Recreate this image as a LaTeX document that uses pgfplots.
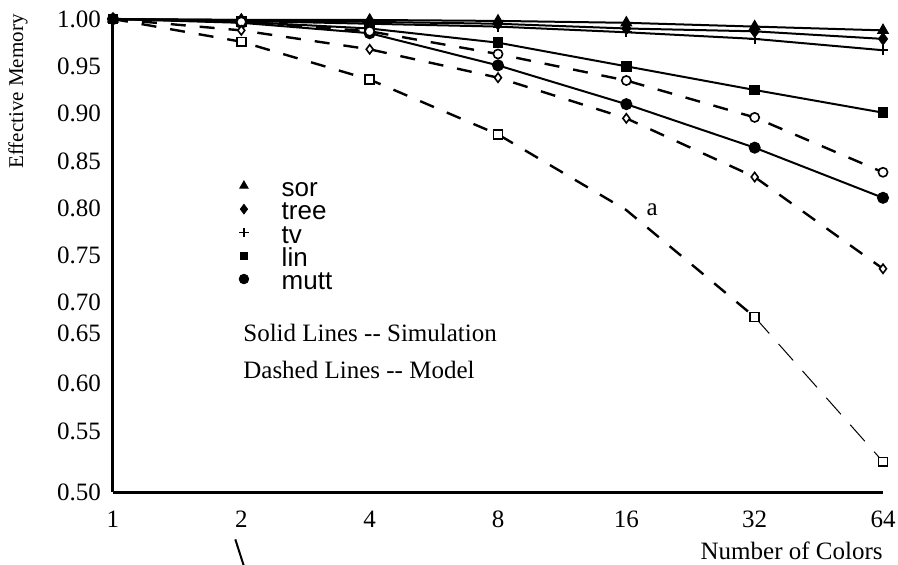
\documentclass[border=0pt]{standalone}
\usepackage{pgfplots}
\pgfplotsset{compat=1.18}
\usepackage{fontspec}
\setmainfont{Liberation Serif}
\newfontfamily\legfont{Liberation Sans}

\pgfplotsset{
  sim/.style={black, line width=1pt, mark options={solid}},
  model/.style={black, line width=1.2pt, dash pattern=on 7.5pt off 7pt,
    mark options={solid, fill=white, line width=0.8pt}},
}

\begin{document}
\begin{tikzpicture}
\useasboundingbox (-56.5pt,-36pt) rectangle (392.5pt,246pt);
\begin{axis}[
  at={(0,0)}, anchor=south west,
  scale only axis, width=385pt, height=236.5pt,
  xmode=log, log basis x=2,
  xmin=1, xmax=64, ymin=0.5, ymax=1.0,
  axis x line*=bottom, axis y line*=left,
  axis line style={line width=1.5pt},
  every outer x axis line/.append style={-},
  every outer y axis line/.append style={-},
  xtick={1,2,4,8,16,32,64}, xticklabels={1,2,4,8,16,32,64},
  ytick={0.5,0.5637,0.6145,0.668,0.70,0.75,0.80,0.85,0.90,0.95,1.00},
  yticklabels={0.50,0.55,0.60,0.65,0.70,0.75,0.80,0.85,0.90,0.95,1.00},
  minor tick num=0,
  major tick length=0pt,
  tick label style={font=\fontsize{12.5}{14}\selectfont},
  yticklabel style={xshift=-2.5pt},
  xticklabel style={yshift=-6pt},
  clip=false,
  legend cell align=left,
  legend image code/.code={\draw[#1] plot coordinates {(0pt,1.5pt)};},
  legend style={draw=none, fill=none, at={(axis description cs:0.1555,0.667)},
    anchor=north west, font=\legfont\fontsize{13}{14}\selectfont,
    column sep=16.5pt, row sep=4.05pt,
    nodes={inner sep=0pt, text height=7.5pt, text depth=0pt}},
]
% simulation (solid)
\addplot[sim, mark=triangle*, mark size=2.6pt, forget plot] coordinates {(1,1.000) (2,0.999) (4,0.999) (8,0.998) (16,0.996) (32,0.992) (64,0.988)};
\addplot[sim, mark=diamond*, mark size=2.6pt, forget plot] coordinates {(1,1.000) (2,0.999) (4,0.997) (8,0.995) (16,0.990) (32,0.987) (64,0.979)};
\addplot[sim, mark=+, mark size=2.6pt, forget plot] coordinates {(1,1.000) (2,0.998) (4,0.995) (8,0.992) (16,0.986) (32,0.979) (64,0.967)};
\addplot[sim, mark=square*, mark size=2.2pt, forget plot] coordinates {(1,1.000) (2,0.997) (4,0.990) (8,0.975) (16,0.950) (32,0.925) (64,0.901)};
\addplot[sim, mark=*, mark size=2.5pt, forget plot] coordinates {(1,1.000) (2,0.996) (4,0.985) (8,0.951) (16,0.910) (32,0.864) (64,0.811)};
% model (dashed)
\addplot[model, forget plot] coordinates {(1,1.000) (2,0.997) (4,0.987) (8,0.963) (16,0.935) (32,0.896) (64,0.838)};
\addplot[black, only marks, mark=*, mark size=2.3pt, mark options={fill=white, line width=0.8pt}, forget plot] coordinates {(2,0.997) (4,0.987) (8,0.963) (16,0.935) (32,0.896) (64,0.838)};
\addplot[model, forget plot] coordinates {(1,1.000) (2,0.988) (4,0.968) (8,0.938) (16,0.895) (32,0.833) (64,0.736)};
\addplot[black, only marks, mark=diamond*, mark size=2.3pt, mark options={fill=white, line width=0.8pt}, forget plot] coordinates {(2,0.988) (4,0.968) (8,0.938) (16,0.895) (32,0.833) (64,0.736)};
\addplot[model, forget plot] coordinates {(1,1.000) (2,0.976) (4,0.936) (8,0.878) (16,0.798) (32,0.685)};
\addplot[black, line width=0.5pt, dash pattern=on 11pt off 7pt, forget plot] coordinates {(32,0.685) (64,0.532)};
\addplot[black, only marks, mark=square*, mark size=2.2pt, mark options={fill=white, line width=0.8pt}, forget plot] coordinates {(2,0.976) (4,0.936) (8,0.878) (32,0.685) (64,0.532)};
% legend
\addlegendimage{black, only marks, mark=triangle*, mark size=2.4pt}
\addlegendentry{sor}
\addlegendimage{black, only marks, mark=diamond*, mark size=2.4pt}
\addlegendentry{tree}
\addlegendimage{black, only marks, mark=+, mark size=2.4pt, line width=0.9pt}
\addlegendentry{tv}
\addlegendimage{black, only marks, mark=square*, mark size=1.8pt}
\addlegendentry{lin}
\addlegendimage{black, only marks, mark=*, mark size=2.4pt}
\addlegendentry{mutt}
% tick marks, crossing the axis lines
\pgfplotsinvokeforeach{0.5637,0.6145,0.668,0.70,0.75,0.80,0.85,0.90,0.95}{
  \draw[black, line width=1pt] (axis cs:1,#1) ++(-3pt,0) -- ++(11.5pt,0);
}
\pgfplotsinvokeforeach{2,4,8,16,32,64}{
  \draw[black, line width=1pt] (axis cs:#1,0.5) ++(0,-3pt) -- ++(0,12pt);
}
% annotations
\node[anchor=west, inner sep=0pt, font=\fontsize{12.5}{14}\selectfont] at (axis description cs:0.1688,0.336) {Solid Lines -{}- Simulation};
\node[anchor=west, inner sep=0pt, font=\fontsize{12.5}{14}\selectfont] at (axis description cs:0.1688,0.258) {Dashed Lines -{}- Model};
\node[inner sep=0pt, font=\fontsize{12.5}{14}\selectfont] at (axis cs:18.4,0.798) {a};
\node[rotate=90, anchor=east, inner sep=0pt, font=\fontsize{10.5}{12}\selectfont] at (axis description cs:-0.1234,1.0106) {Effective Memory};
\node[anchor=east, inner sep=0pt, font=\fontsize{12.5}{14}\selectfont] at (axis description cs:1.0,-0.125) {Number of Colors};
\end{axis}
\end{tikzpicture}
\end{document}
